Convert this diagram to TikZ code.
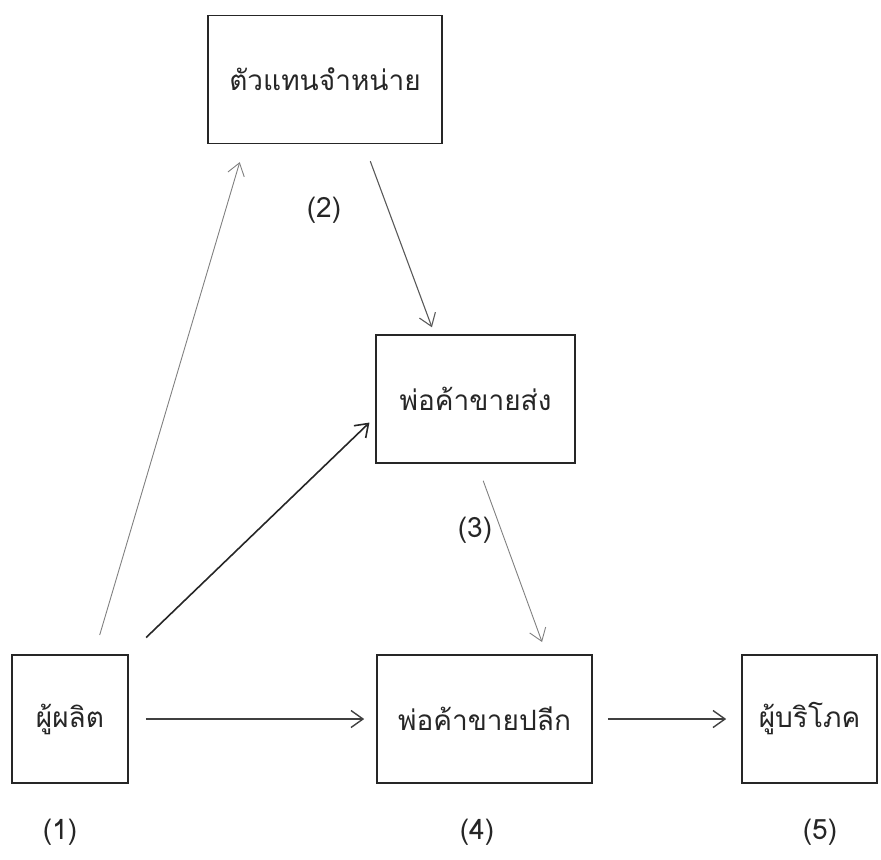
\documentclass[tikz,border=0pt]{standalone}
\usepackage{fontspec}
\setmainfont[Script=Thai]{Loma}
\usetikzlibrary{arrows.meta}

\tikzset{
  caixa/.style={draw=black!85, line width=0.8pt, minimum height=64pt, inner sep=0pt},
  seta/.style={-{Straight Barb[length=6pt,width=8.5pt]}, line width=0.7pt, draw=black!75},
  fraca/.style={seta, line width=0.45pt, draw=black!50},
  rotulo/.style={font=\fontsize{14}{16}\selectfont, text=black!85}
}

\begin{document}
\begin{tikzpicture}[x=0.5pt, y=-0.5pt, every node/.style={rotulo}]

\useasboundingbox (0,0) rectangle (881,859);

% Caixas
\node[caixa, minimum width=117pt] (agente) at (325,79.5) {ตัวแทนจำหน่าย};
\node[caixa, minimum width=99.5pt] (atacado) at (475.5,399) {พ่อค้าขายส่ง};
\node[caixa, minimum width=58pt] (produtor) at (70,719) {ผู้ผลิต};
\node[caixa, minimum width=107.5pt] (varejo) at (484.5,719) {พ่อค้าขายปลีก};
\node[caixa, minimum width=67.5pt] (consumidor) at (809.5,719) {ผู้บริโภค};

% Numeros
\node (n1) at (60,832) {(1)};
\node (n2) at (324,210) {(2)};
\node (n3) at (475,530) {(3)};
\node (n4) at (477,832) {(4)};
\node (n5) at (820,832) {(5)};

% Produtor -> agente
\draw[fraca, shorten <=10pt, shorten >=9.3pt] ([xshift=12pt]produtor.north) -- ([xshift=-40pt]agente.south);

% Produtor -> atacado
\draw[seta, line width=0.8pt, draw=black!85, shorten <=12pt, shorten >=4pt] (produtor.north east) -- ([yshift=-9pt]atacado.west);

% Agente -> atacado
\draw[seta, line width=0.55pt, draw=black!65, shorten <=9pt, shorten >=3.7pt] ([xshift=19.5pt]agente.south) -- ([xshift=-20.5pt]atacado.north);

% Atacado -> varejo
\draw[fraca, shorten <=9pt, shorten >=6.5pt] ([xshift=0.75pt]atacado.south) -- ([xshift=31pt]varejo.north);

% Linha de baixo
\draw[seta, shorten <=8.5pt, shorten >=6pt] (produtor.east) -- (varejo.west);
\draw[seta, shorten <=7.5pt, shorten >=7.5pt] (varejo.east) -- (consumidor.west);

\end{tikzpicture}
\end{document}
